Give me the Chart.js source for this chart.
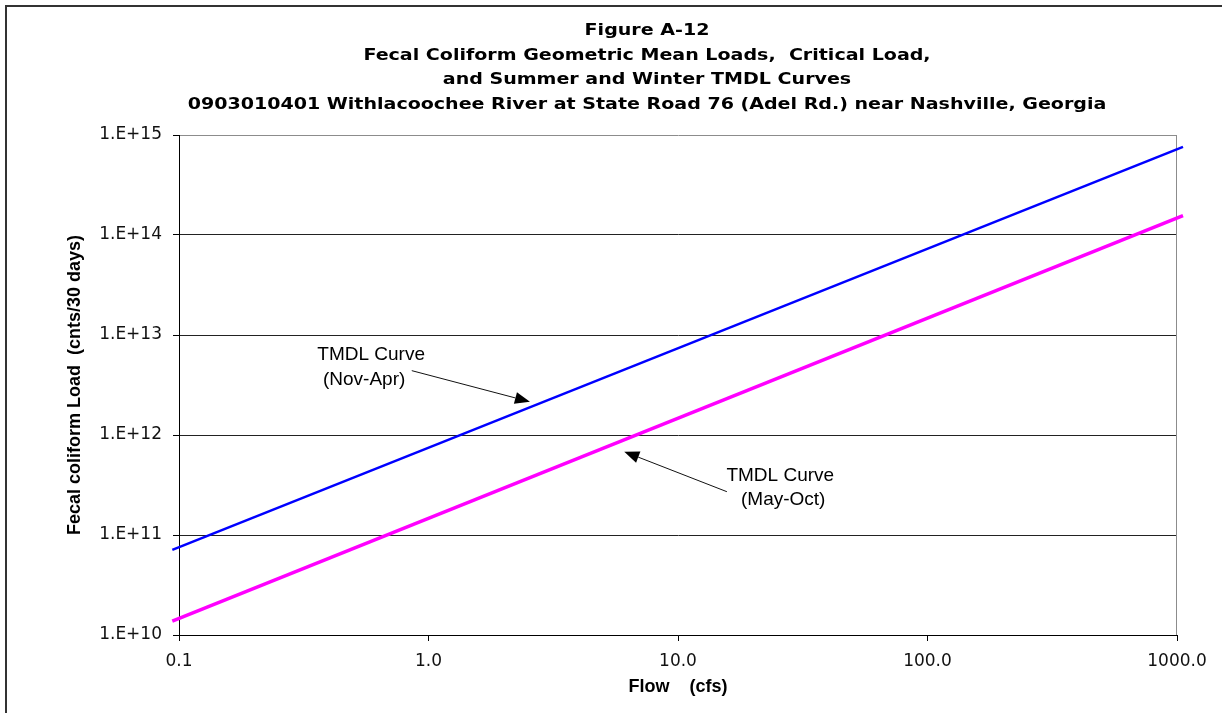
<!DOCTYPE html>
<html>
<head>
<meta charset="utf-8">
<script src="https://cdn.jsdelivr.net/npm/chart.js@4.4.1/dist/chart.umd.min.js"></script>
<style>
  html, body { margin: 0; padding: 0; background: #fff; overflow: hidden; }
  #frame { position: absolute; left: 5px; top: 5px; width: 1400px; height: 900px;
           border-left: 2px solid #333; border-top: 2px solid #333; }
  #chart { position: absolute; left: 0; top: 0; }
</style>
</head>
<body>
<div id="frame"></div>
<canvas id="chart" width="1222" height="713"></canvas>
<script>
    // flow (cfs) at the two ends of each drawn curve
    const flowCfs = [0.094, 1057];
    const winterTmdl = [7.1e10, 7.6e14];   // Nov-Apr
    const summerTmdl = [1.38e10, 1.56e14]; // May-Oct

    const xTickValues = [0.1, 1, 10, 100, 1000];
    const xTickLabels = ['0.1', '1.0', '10.0', '100.0', '1000.0'];
    const yTickValues = [1e10, 1e11, 1e12, 1e13, 1e14, 1e15];
    const yTickLabels = ['1.E+10', '1.E+11', '1.E+12', '1.E+13', '1.E+14', '1.E+15'];

    const titleLines = [
        'Figure A-12',
        'Fecal Coliform Geometric Mean Loads,  Critical Load,',
        'and Summer and Winter TMDL Curves',
        '0903010401 Withlacoochee River at State Road 76 (Adel Rd.) near Nashville, Georgia'
    ];

    // callouts, anchored in data units
    const callouts = [
        { lines: ['TMDL Curve', '(Nov-Apr)'], at: [[0.589, 6.31e12], [0.552, 3.59e12]],
          from: [0.857, 4.40e12], to: [2.55, 2.15e12] },
        { lines: ['TMDL Curve', '(May-Oct)'], at: [[25.7, 3.89e11], [26.4, 2.24e11]],
          from: [15.7, 2.71e11], to: [6.09, 6.81e11] }
    ];

    Chart.defaults.font.family = '"Liberation Sans", Arial, sans-serif';
    Chart.defaults.color = '#000';

    // the original title is drawn with a horizontally stretched bold face
    const titlePlugin = {
        id: 'figTitle',
        afterDraw(chart) {
            const ctx = chart.ctx;
            ctx.save();
            ctx.font = 'bold 16px "DejaVu Sans"';
            ctx.fillStyle = '#000';
            ctx.textAlign = 'center';
            ctx.textBaseline = 'middle';
            titleLines.forEach((t, i) => {
                ctx.save();
                ctx.translate(647, 31 + i * 24.5);
                ctx.scale(1.19, 1);
                ctx.fillText(t, 0, 0);
                ctx.restore();
            });
            ctx.restore();
        }
    };

    const plotFrame = {
        id: 'plotFrame',
        beforeDatasetsDraw(chart) {
            const { ctx, chartArea: a } = chart;
            ctx.save();
            ctx.strokeStyle = '#8c8c8c';
            ctx.lineWidth = 1;
            ctx.beginPath();
            ctx.moveTo(a.right - 0.5, a.top);
            ctx.lineTo(a.right - 0.5, a.bottom);
            ctx.stroke();
            ctx.restore();
        }
    };

    const calloutPlugin = {
        id: 'callouts',
        afterDatasetsDraw(chart) {
            const { ctx, scales: { x, y } } = chart;
            ctx.save();
            ctx.font = '19px "Liberation Sans"';
            ctx.fillStyle = '#000';
            ctx.strokeStyle = '#111';
            ctx.lineWidth = 1;
            ctx.textAlign = 'center';
            ctx.textBaseline = 'middle';
            callouts.forEach(c => {
                c.lines.forEach((t, i) => {
                    ctx.fillText(t, x.getPixelForValue(c.at[i][0]), y.getPixelForValue(c.at[i][1]));
                });
                const x0 = x.getPixelForValue(c.from[0]), y0 = y.getPixelForValue(c.from[1]);
                const x1 = x.getPixelForValue(c.to[0]), y1 = y.getPixelForValue(c.to[1]);
                const ang = Math.atan2(y1 - y0, x1 - x0);
                const len = 15, half = 6;
                const bx = x1 - len * Math.cos(ang), by = y1 - len * Math.sin(ang);
                ctx.beginPath();
                ctx.moveTo(x0, y0);
                ctx.lineTo(bx, by);
                ctx.stroke();
                ctx.beginPath();
                ctx.moveTo(x1, y1);
                ctx.lineTo(bx + half * Math.sin(ang), by - half * Math.cos(ang));
                ctx.lineTo(bx - half * Math.sin(ang), by + half * Math.cos(ang));
                ctx.closePath();
                ctx.fill();
            });
            ctx.restore();
        }
    };

    new Chart(document.getElementById('chart').getContext('2d'), {
        type: 'line',
        data: {
            datasets: [{
                label: 'TMDL Curve (Nov-Apr)',
                data: flowCfs.map((f, i) => ({ x: f, y: winterTmdl[i] })),
                borderColor: '#0000ff',
                borderWidth: 2.5,
                pointRadius: 0,
                clip: false
            }, {
                label: 'TMDL Curve (May-Oct)',
                data: flowCfs.map((f, i) => ({ x: f, y: summerTmdl[i] })),
                borderColor: '#ff00ff',
                borderWidth: 3.5,
                pointRadius: 0,
                clip: false
            }]
        },
        options: {
            responsive: false,
            animation: false,
            devicePixelRatio: 1,
            layout: { padding: { top: 135, right: 45, bottom: 0, left: 0 } },
            plugins: { legend: { display: false }, title: { display: false }, tooltip: { enabled: false } },
            scales: {
                x: {
                    type: 'logarithmic',
                    min: 0.1, max: 1000,
                    afterBuildTicks: s => { s.ticks = xTickValues.map(v => ({ value: v })); },
                    afterFit: s => { s.height = 78; },
                    ticks: {
                        autoSkip: false, maxRotation: 0, padding: 10,
                        color: '#111',
                        font: { size: 17, family: '"DejaVu Sans"' },
                        callback: (v, i) => xTickLabels[i]
                    },
                    grid: { drawOnChartArea: false, drawTicks: true, tickLength: 6, tickColor: '#000' },
                    border: { display: true, color: '#000', width: 1 },
                    title: {
                        display: true, text: 'Flow    (cfs)',
                        font: { size: 18, weight: 'bold' },
                        padding: { top: 0, bottom: 15 }
                    }
                },
                y: {
                    type: 'logarithmic',
                    min: 1e10, max: 1e15,
                    afterBuildTicks: s => { s.ticks = yTickValues.map(v => ({ value: v })); },
                    afterFit: s => { s.width = 179; },
                    ticks: {
                        autoSkip: false, padding: 11,
                        color: '#111',
                        font: { size: 17, family: '"DejaVu Sans"' },
                        callback: (v, i) => yTickLabels[i]
                    },
                    grid: {
                        color: c => (c.tick && c.tick.value === 1e15) ? '#8c8c8c' : '#222',
                        tickColor: '#000', tickLength: 6
                    },
                    border: { display: true, color: '#000', width: 1 },
                    title: {
                        display: true, text: 'Fecal coliform Load  (cnts/30 days)',
                        font: { size: 18, weight: 'bold' },
                        padding: { top: 64, bottom: 0 }
                    }
                }
            }
        },
        plugins: [plotFrame, calloutPlugin, titlePlugin]
    });
</script>
</body>
</html>
